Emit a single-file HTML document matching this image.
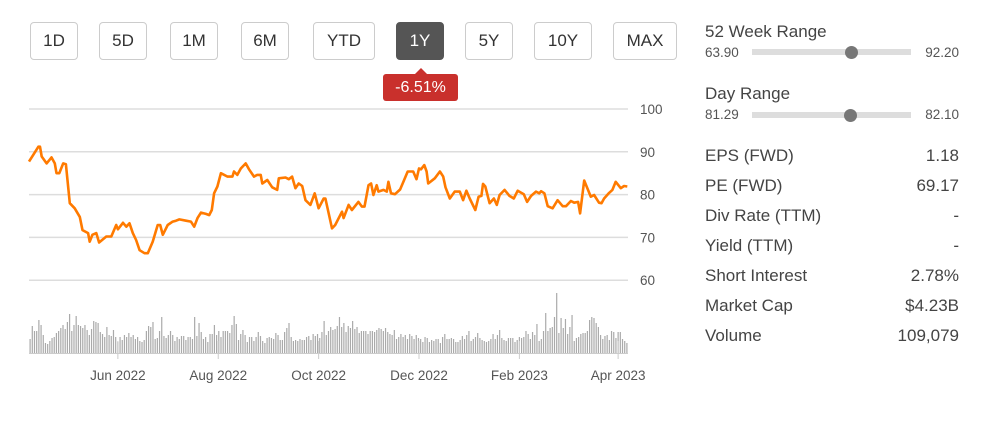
<!DOCTYPE html>
<html><head><meta charset="utf-8"><style>
body{margin:0;width:992px;height:425px;background:#fff;font-family:"Liberation Sans",sans-serif;color:#333;position:relative;overflow:hidden}
.btn{position:absolute;top:22px;height:38px;border:1px solid #ccc;border-radius:4px;box-sizing:border-box;font-size:17px;color:#333;display:flex;align-items:center;justify-content:center;background:#fff}
.btn.on{background:#555;color:#fff;border-color:#555}
.tip{position:absolute;left:383px;top:74px;width:75px;height:27px;background:#c9302c;color:#fff;border-radius:3px;font-size:16px;display:flex;align-items:center;justify-content:center}
.tip:before{content:"";position:absolute;top:-6px;left:32px;border-left:6px solid transparent;border-right:6px solid transparent;border-bottom:6px solid #c9302c}
.t{position:absolute;font-size:17px;color:#444}
.s{position:absolute;font-size:13.5px;color:#555}
.r{position:absolute;right:33px;font-size:17px;color:#444;text-align:right}
.track{position:absolute;left:752px;width:159px;height:6px;background:#ddd}
.dot{position:absolute;width:13px;height:13px;border-radius:50%;background:#777}
</style></head><body>
<div class="btn" style="left:30px;width:48px">1D</div>
<div class="btn" style="left:99px;width:48px">5D</div>
<div class="btn" style="left:170px;width:48px">1M</div>
<div class="btn" style="left:241px;width:48px">6M</div>
<div class="btn" style="left:313px;width:62px">YTD</div>
<div class="btn on" style="left:396px;width:48px">1Y</div>
<div class="btn" style="left:465px;width:48px">5Y</div>
<div class="btn" style="left:534px;width:58px">10Y</div>
<div class="btn" style="left:613px;width:64px">MAX</div>
<div class="tip">-6.51%</div>

<svg id="chart" width="680" height="425" style="position:absolute;left:0;top:0"></svg>

<div class="t" style="left:705px;top:22px">52 Week Range</div>
<div class="s" style="left:705px;top:45px">63.90</div>
<div class="track" style="top:49px"></div>
<div class="dot" style="left:845px;top:46px"></div>
<div class="s" style="right:33px;top:45px">92.20</div>
<div class="t" style="left:705px;top:84px">Day Range</div>
<div class="s" style="left:705px;top:107px">81.29</div>
<div class="track" style="top:112px"></div>
<div class="dot" style="left:844px;top:109px"></div>
<div class="s" style="right:33px;top:107px">82.10</div>

<div class="t" style="left:705px;top:146px">EPS (FWD)</div><div class="r" style="top:146px">1.18</div>
<div class="t" style="left:705px;top:176px">PE (FWD)</div><div class="r" style="top:176px">69.17</div>
<div class="t" style="left:705px;top:206px">Div Rate (TTM)</div><div class="r" style="top:206px">-</div>
<div class="t" style="left:705px;top:236px">Yield (TTM)</div><div class="r" style="top:236px">-</div>
<div class="t" style="left:705px;top:266px">Short Interest</div><div class="r" style="top:266px">2.78%</div>
<div class="t" style="left:705px;top:296px">Market Cap</div><div class="r" style="top:296px">$4.23B</div>
<div class="t" style="left:705px;top:326px">Volume</div><div class="r" style="top:326px">109,079</div>

<script>
const yTicks=[100,90,80,70,60];
const xTickLabels=["Jun 2022","Aug 2022","Oct 2022","Dec 2022","Feb 2023","Apr 2023"];
const xTickDays=[54,115,176,237,298,358];
const priceDays=[0,2.6,5.7,6.7,7.7,10.7,13.7,15.7,16.7,18.4,20.8,22.4,24.8,27.8,30.9,32.5,35.9,36.9,38.5,40.9,42.6,47,50,53,54,57.1,59.1,61.1,63.1,65.1,67.2,70.2,72.2,75.2,78.2,79.7,81.3,84.3,87.3,89.3,91.4,95.4,98.4,100.4,102.4,104.5,107.5,109.5,111.1,112.5,114.5,116.6,120.6,123.6,124.6,126.6,128.7,131.7,133.7,136.7,138.7,140.8,141.8,144.8,147.8,150.8,151.8,155.9,157.9,159.9,161.9,163.9,166,168,171,173.6,176,179.1,180.1,184.1,
186.1,190.2,191.2,194.2,196.2,200.2,202.3,203.9,206.3,207.9,209.3,211.3,212.3,215.4,217.4,218.4,220,222.4,225.5,227.5,230.1,233.5,235.5,237,238.2,240.2,241.6,242.6,246.6,249.7,251.7,253.1,255.7,258.7,261.8,263.8,265.8,267.8,271.2,273.2,274.9,275.9,277.3,279.9,282.5,284.3,286,289,292,294.6,297,300.7,302.7,305.1,308.1,310.1,311.2,313.2,315.2,318.2,321.2,324.3,326.3,329.3,331.3,333.7,334.9,337.4,341.4,343.4,346.4,347.9,349.5,352.5,354.5,356.5,359.6,361.6,363.6];
const prices=[87.7,89.3,91.2,91.2,88.9,87.3,88.7,87.3,85.0,85.0,87.3,87.1,78.0,76.8,74.8,71.7,71.0,69.0,70.6,71.0,68.8,70.2,70.2,72.9,71.9,73.4,72.5,73.3,71.0,69.4,67.0,66.3,66.3,69.0,72.9,72.9,70.6,72.9,73.7,73.9,74.2,73.9,73.7,72.5,74.5,75.8,75.5,75.2,76.4,80.3,81.9,85.0,84.2,84.2,85.4,84.6,86.1,87.3,85.9,84.2,84.6,84.6,82.6,83.4,81.7,81.1,83.8,84.0,83.6,84.2,81.5,82.6,82.0,78.7,77.6,80.3,76.8,79.1,79.1,72.1,
72.9,76.0,74.5,77.6,76.4,78.3,77.2,77.2,82.2,82.6,79.9,82.2,80.7,81.1,80.7,83.0,80.3,80.1,81.2,83.0,85.4,85.4,83.6,86.1,85.9,86.9,85.4,82.6,83.8,85.4,84.2,81.7,79.1,80.7,80.7,78.7,80.9,79.1,76.4,79.5,79.7,82.5,81.9,78.0,79.1,77.6,79.9,81.1,79.7,79.1,80.9,80.1,78.3,79.7,80.7,80.3,80.8,80.3,77.3,76.8,78.7,77.3,77.3,78.5,78.1,78.3,75.6,83.3,79.5,79.9,78.1,78.0,79.1,80.4,81.1,83.0,81.5,82.0,81.9];
const volumes=[14,27,22,22,33,28,18,10,9,12,15,16,20,22,25,28,24,31,39,22,28,37,28,27,25,28,23,18,24,32,31,30,21,19,16,26,18,17,23,16,11,16,13,18,16,20,16,18,14,16,12,11,13,22,27,26,31,14,15,22,36,17,15,18,22,18,12,16,14,17,17,13,16,16,14,36,17,30,21,14,16,11,19,19,28,18,22,16,22,22,22,20,28,37,29,13,19,23,18,11,16,16,12,16,21,17,12,10,15,16,15,14,20,18,13,13,21,25,30,16,12,13,12,14,13,13,16,17,13,19,17,19,15,21,32,18,22,26,23,24,27,36,26,30,21,27,25,32,24,26,20,22,22,22,19,22,22,21,23,25,24,22,25,21,19,18,23,14,16,19,16,18,14,19,17,14,18,15,14,11,16,15,11,13,12,14,14,10,16,19,14,14,15,14,11,11,13,17,14,18,22,12,14,16,20,15,13,12,11,12,14,19,14,18,23,15,13,12,15,15,15,11,13,16,15,16,22,19,14,21,18,29,12,14,22,40,22,25,26,36,60,20,35,25,34,19,26,38,12,15,16,19,20,20,22,33,36,35,30,26,18,14,17,18,13,22,21,15,21,21,14,12,10];
const NS="http://www.w3.org/2000/svg";
const svg=document.getElementById('chart');
const X0=29,X1=628,D=364;
const xs=d=>X0+d*(X1-X0)/D;
const ys=p=>109+(100-p)*4.28;
function mk(tag,attrs){const e=document.createElementNS(NS,tag);for(const k in attrs)e.setAttribute(k,attrs[k]);svg.appendChild(e);return e;}
yTicks.forEach(v=>{
  const l=mk('line',{x1:X0,x2:X1,y1:ys(v),y2:ys(v),stroke:'#ddd','stroke-width':1.5});
  
  
  const t=mk('text',{x:640,y:ys(v)+5,'font-size':13.5,fill:'#555','font-family':'Liberation Sans, sans-serif'});
  t.textContent=v;
  
  
});
const VB=353,VS=1.0;
const vw=(X1-X0)/volumes.length;
volumes.forEach((v,i)=>{
  const x=X0+(i+0.5)*vw;
  const b=mk('rect',{x:x-0.6,y:VB-v*VS,width:1.2,height:v*VS,fill:'#aaa'});
  
  
});
mk('line',{x1:X0,x2:X1,y1:VB+0.5,y2:VB+0.5,stroke:'#ccc','stroke-width':1});
xTickDays.forEach((d,i)=>{
  const x=xs(d);
  const l=mk('line',{x1:x,x2:x,y1:VB-12,y2:VB+6,stroke:'#ccc','stroke-width':1});
  
  
  const t=mk('text',{x:x,y:380,'font-size':13.5,fill:'#555','text-anchor':'middle','font-family':'Liberation Sans, sans-serif'});
  t.textContent=xTickLabels[i];
  
  
});
const pts=priceDays.map((d,i)=>xs(d).toFixed(1)+','+ys(prices[i]).toFixed(1)).join(' ');
const pl=mk('polyline',{points:pts,fill:'none',stroke:'#ff7a00','stroke-width':2.6,'stroke-linejoin':'round'});


</script>
</body></html>
